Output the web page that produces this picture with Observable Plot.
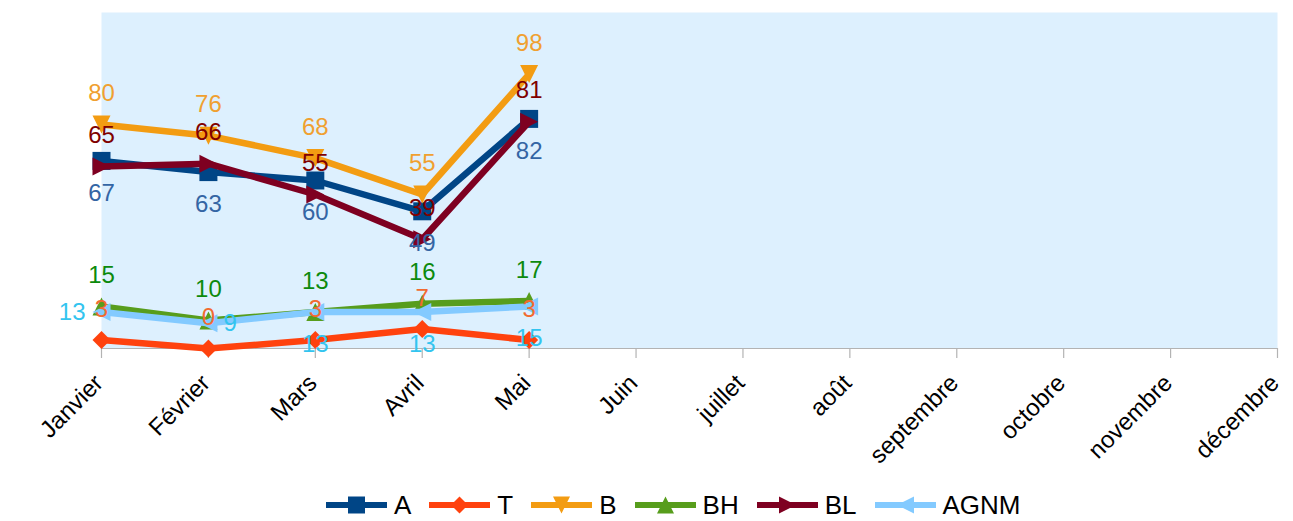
<!DOCTYPE html>
<html><head><meta charset="utf-8">
<script src="https://cdn.jsdelivr.net/npm/d3@7"></script>
<script src="https://cdn.jsdelivr.net/npm/@observablehq/plot@0.6"></script>
<style>
body{margin:0;background:#fff;font-family:"Liberation Sans",Arial,sans-serif;}
#legend{display:flex;align-items:center;height:50px;padding-left:326px;font-size:26px;color:#000;}
.item{display:flex;align-items:center;margin-right:18px;}
.item svg{margin-right:7px;}
</style></head><body>
<div id="chart"></div><div id="legend"></div>
<script>
const months = ["Janvier","Février","Mars","Avril","Mai","Juin","juillet","août","septembre","octobre","novembre","décembre"];
const seriesNames = ["A","T","B","BH","BL","AGNM"];
const valuesA = [67,63,60,49,82];
const valuesT = [3,0,3,7,3];
const valuesB = [80,76,68,55,98];
const valuesBH = [15,10,13,16,17];
const valuesBL = [65,66,55,39,81];
const valuesAGNM = [13,9,13,13,15];
const allValues = [valuesA,valuesT,valuesB,valuesBH,valuesBL,valuesAGNM];

const lineColors = ["#004586","#ff420e","#f39c12","#579d1c","#7e0021","#83caff"];
const labelColors = ["#3465a4","#f26a30","#f0a030","#0c8a0c","#800000","#33c4ef"];

const sym = (f) => ({draw(ctx, size){ const h = Math.sqrt(size/Math.PI); f(ctx,h); }});
const symbols = [
  sym((c,h)=>{c.moveTo(-h,-h);c.lineTo(h,-h);c.lineTo(h,h);c.lineTo(-h,h);c.closePath();}),
  sym((c,h)=>{c.moveTo(0,-h);c.lineTo(h,0);c.lineTo(0,h);c.lineTo(-h,0);c.closePath();}),
  sym((c,h)=>{c.moveTo(-h,-h);c.lineTo(h,-h);c.lineTo(0,h);c.closePath();}),
  sym((c,h)=>{c.moveTo(0,-h);c.lineTo(h,h);c.lineTo(-h,h);c.closePath();}),
  sym((c,h)=>{c.moveTo(-h,-h);c.lineTo(h,0);c.lineTo(-h,h);c.closePath();}),
  sym((c,h)=>{c.moveTo(h,-h);c.lineTo(-h,0);c.lineTo(h,h);c.closePath();})
];
const placement = ["below","above","above","above","above","below"];
const overrides = {"5-0":"left","5-1":"right"};

const rows = [];
allValues.forEach((vals,s)=>vals.forEach((v,i)=>rows.push({s, series:seriesNames[s], month:months[i], value:v, i})));

const marks = [
  Plot.frame({fill:"#ddf0fe", stroke:null}),
  Plot.ruleY([0], {stroke:"#b3b3b3", strokeWidth:1.2}),
  Plot.axisX({ticks:months, tickSize:10, stroke:"#b3b3b3", strokeWidth:1.2, text:null, label:null}),
  Plot.text(months, {x:d=>d, frameAnchor:"bottom", dx:3, dy:36, rotate:-45, textAnchor:"end", fontSize:24, fill:"#000", text:d=>d})
];
seriesNames.forEach((name,s)=>{
  const d = rows.filter(r=>r.s===s);
  marks.push(Plot.line(d, {x:"month", y:"value", stroke:lineColors[s], strokeWidth:6.5, strokeLinejoin:"round"}));
  marks.push(Plot.dot(d, {x:"month", y:"value", symbol:symbols[s], r:9, fill:lineColors[s], stroke:null}));
});
seriesNames.forEach((name,s)=>{
  const d = rows.filter(r=>r.s===s);
  const pos = r => overrides[s+"-"+r.i] || placement[s];
  const up = d.filter(r=>pos(r)==="above"), dn = d.filter(r=>pos(r)==="below");
  const lf = d.filter(r=>pos(r)==="left"), rt = d.filter(r=>pos(r)==="right");
  const common = {x:"month", y:"value", text:r=>String(r.value), fill:labelColors[s], fontSize:24};
  marks.push(Plot.text(up, {...common, dy:-31}));
  marks.push(Plot.text(dn, {...common, dy:32}));
  marks.push(Plot.text(lf, {...common, dx:-16, textAnchor:"end"}));
  marks.push(Plot.text(rt, {...common, dx:15, textAnchor:"start"}));
});

const chart = Plot.plot({
  width:1293, height:480,
  marginTop:12, marginBottom:132, marginLeft:101, marginRight:16,
  style:{fontFamily:"'Liberation Sans', Arial, sans-serif", background:"#fff"},
  x:{type:"point", domain:months, padding:0, round:false, axis:null},
  y:{domain:[0,120], axis:null},
  marks
});
document.getElementById("chart").appendChild(chart);

const legend = document.getElementById("legend");
seriesNames.forEach((name,s)=>{
  const item = document.createElement("div"); item.className="item";
  const p = d3.symbol(symbols[s], Math.PI*8.5*8.5)();
  item.innerHTML = `<svg width="61" height="20"><line x1="0" x2="61" y1="10" y2="10" stroke="${lineColors[s]}" stroke-width="6"/><path transform="translate(30.5,10)" d="${p}" fill="${lineColors[s]}"/></svg><span>${name}</span>`;
  legend.appendChild(item);
});
</script></body></html>
